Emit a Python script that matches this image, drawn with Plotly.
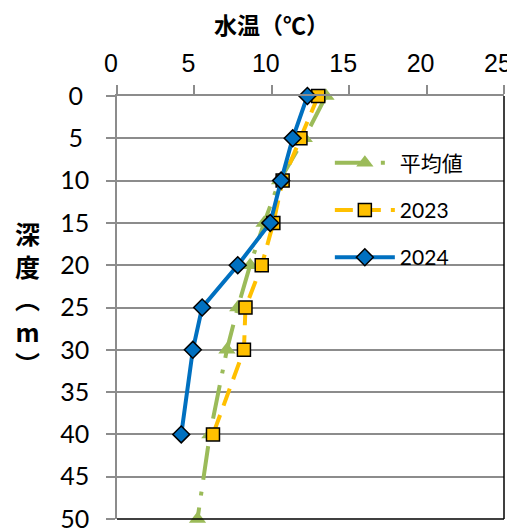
import plotly.graph_objects as go

# Data
depth_avg = [0, 5, 10, 15, 20, 25, 30, 40, 50]
temp_avg = [13.5, 12.1, 10.5, 9.5, 8.6, 7.8, 7.1, 6.0, 5.2]

depth_2023 = [0, 5, 10, 15, 20, 25, 30, 40]
temp_2023 = [13.0, 11.85, 10.7, 10.1, 9.35, 8.3, 8.2, 6.2]

depth_2024 = [0, 5, 10, 15, 20, 25, 30, 40]
temp_2024 = [12.3, 11.35, 10.6, 9.9, 7.8, 5.5, 4.9, 4.15]

x_ticks = [0, 5, 10, 15, 20, 25]
y_ticks = [0, 5, 10, 15, 20, 25, 30, 35, 40, 45, 50]

names = ["平均値", "2023", "2024"]
x_title = "水温（℃）"
y_title = "深<br>度<br>︵<br>m<br>︶"

GREEN = "#9BBB59"
ORANGE = "#FFC000"
BLUE = "#0070C0"
GRAY = "#8C8C8C"

fig = go.Figure()
fig.add_trace(go.Scatter(
    x=temp_avg, y=depth_avg, name=names[0], mode="lines+markers",
    legendgroup="a",
    line=dict(color=GREEN, width=4, dash="34px,12px,4px,12px"),
    marker=dict(symbol="triangle-up", size=15, color=GREEN),
    cliponaxis=False,
))
fig.add_trace(go.Scatter(
    x=temp_2023, y=depth_2023, name=names[1], mode="lines+markers",
    legendgroup="b",
    line=dict(color=ORANGE, width=4, dash="18px,10px"),
    marker=dict(symbol="square", size=13, color=ORANGE,
                line=dict(color="black", width=1.5)),
    cliponaxis=False,
))
fig.add_trace(go.Scatter(
    x=temp_2024, y=depth_2024, name=names[2], mode="lines+markers",
    legendgroup="c",
    line=dict(color=BLUE, width=4),
    marker=dict(symbol="diamond", size=13, color=BLUE,
                line=dict(color="black", width=1.5)),
    cliponaxis=False,
))

fig.update_xaxes(
    side="top", range=[0, 25], tickvals=x_ticks,
    ticks="outside", ticklen=9, tickcolor=GRAY, tickwidth=1.5,
    showline=True, linecolor=GRAY, linewidth=1.5,
    showgrid=False, zeroline=False,
    tickfont=dict(family="Liberation Sans", size=25, color="black"),
    ticklabelstandoff=3, ticklabelshift=-6,
    ticklabeloverflow="allow", automargin=False,
)
y_text = [(str(v) + "\u2005") if v < 10 else str(v) for v in y_ticks]
fig.update_yaxes(
    range=[50, 0], tickvals=y_ticks, ticktext=y_text,
    ticks="outside", ticklen=9, tickcolor=GRAY, tickwidth=1.5,
    showline=True, linecolor=GRAY, linewidth=1.5,
    showgrid=True, gridcolor=GRAY, gridwidth=1.5,
    zeroline=False,
    tickfont=dict(family="Lato", size=25, color="black"),
    ticklabelstandoff=12, ticklabeloverflow="allow", automargin=False,
)

annotations = [
    dict(
        text=x_title, xref="paper", yref="paper", x=0.398, y=1.0,
        yshift=72, xanchor="center", yanchor="middle", showarrow=False,
        font=dict(family="Noto Sans CJK JP", size=23, color="black", weight="bold"),
    ),
    dict(
        text=y_title, xref="paper", yref="paper", x=0, y=0.5218,
        xshift=-90, xanchor="center", yanchor="middle", showarrow=False,
        font=dict(family="Noto Sans CJK JP", size=25, color="black", weight="bold"),
    ),
]

fig.update_layout(
    width=507, height=523,
    margin=dict(l=109, r=11, t=87.5, b=12),
    paper_bgcolor="white", plot_bgcolor="white",
    showlegend=True,
    legend=dict(
        x=0.55, y=0.890, xanchor="left", yanchor="top",
        bgcolor="rgba(0,0,0,0)", traceorder="grouped", tracegroupgap=17,
        itemwidth=60,
        font=dict(family="Lato, Noto Sans CJK JP", size=21, color="black"),
    ),
    annotations=annotations,
    shapes=[
        dict(type="line", xref="paper", yref="paper", x0=1, x1=1, y0=0, y1=1,
             line=dict(color="black", width=1.5)),
        dict(type="line", xref="paper", yref="paper", x0=0, x1=1, y0=0, y1=0,
             line=dict(color="black", width=1.5)),
    ],
)

fig.write_html("out.html")
